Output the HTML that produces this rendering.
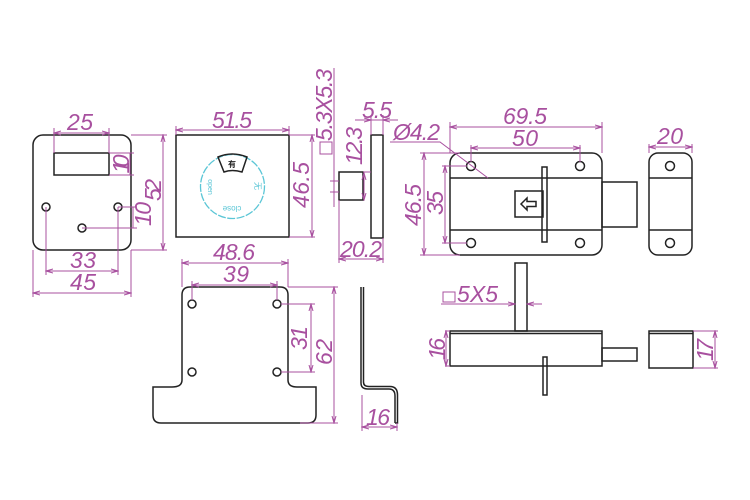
<!DOCTYPE html>
<html><head><meta charset="utf-8"><style>
html,body{margin:0;padding:0;background:#fff;}
svg{display:block;}
.k{fill:none;stroke:#222;stroke-width:1.5;}
.p{fill:none;stroke:#a8509f;stroke-width:1;}
text.d{font-family:"Liberation Sans Narrow","Liberation Sans",sans-serif;font-style:italic;font-size:23px;fill:#a8509f;}
</style></head><body>
<svg width="750" height="500" viewBox="0 0 750 500" xmlns="http://www.w3.org/2000/svg">
<defs>
<marker id="a" markerWidth="8" markerHeight="6" refX="7" refY="3" orient="auto-start-reverse" markerUnits="userSpaceOnUse"><path d="M0,1 L7,3 L0,5" fill="none" stroke="#a8509f" stroke-width="1"/></marker>
</defs>
<!-- Panel 1 -->
<rect class="k" x="33" y="135" width="98" height="115" rx="10"/>
<rect class="k" x="54" y="153" width="55" height="22"/>
<circle class="k" cx="46" cy="207" r="4"/><circle class="k" cx="118" cy="207" r="4"/><circle class="k" cx="82" cy="228" r="4"/>
<g class="p">
<path d="M54 128V153M109 128V153"/><line x1="54" y1="133" x2="109" y2="133" marker-start="url(#a)" marker-end="url(#a)"/>
<path d="M109 153H134M109 175H134"/><line x1="130" y1="153" x2="130" y2="175"/>
<path d="M131 135H167M131 250H167"/><line x1="163" y1="135" x2="163" y2="250" marker-start="url(#a)" marker-end="url(#a)"/>
<path d="M118 207H137M82 228H137"/><line x1="133" y1="207" x2="133" y2="228"/>
<path d="M46 207V275M118 207V275"/><line x1="46" y1="271" x2="118" y2="271" marker-start="url(#a)" marker-end="url(#a)"/>
<path d="M33 250V297M131 250V297"/><line x1="33" y1="293" x2="131" y2="293" marker-start="url(#a)" marker-end="url(#a)"/>
</g>
<text class="d" x="80" y="130" text-anchor="middle" textLength="26">25</text>
<text class="d" transform="translate(129,164) rotate(-90)" text-anchor="middle" textLength="19">10</text>
<text class="d" transform="translate(161,190) rotate(-90)" text-anchor="middle" textLength="22">52</text>
<text class="d" transform="translate(151,214) rotate(-90)" text-anchor="middle" textLength="24">10</text>
<text class="d" x="83" y="268" text-anchor="middle" textLength="26">33</text>
<text class="d" x="83" y="290" text-anchor="middle" textLength="26">45</text>
<!-- Panel 2 -->
<rect class="k" x="176" y="135" width="113" height="102"/>
<circle cx="232.5" cy="186.5" r="32" fill="none" stroke="#5bc6d6" stroke-width="1.3" stroke-dasharray="8,1.5"/>
<path class="k" stroke-width="1.3" d="M218 157 Q232 151 247 157 L242 172 Q232 169 224 172 Z"/>
<text x="232" y="167" font-family="Noto Sans CJK SC,sans-serif" font-size="8" font-weight="bold" text-anchor="middle" fill="#222">有</text>
<text transform="translate(232,206) rotate(180)" font-family="Liberation Sans,sans-serif" font-size="8" text-anchor="middle" fill="#5bc6d6">close</text>
<text transform="translate(208,187) rotate(90)" font-family="Liberation Sans,sans-serif" font-size="7" text-anchor="middle" fill="#5bc6d6">open</text>
<text transform="translate(255,186) rotate(90)" font-family="Noto Sans CJK SC,sans-serif" font-size="8" text-anchor="middle" fill="#5bc6d6">无</text>
<g class="p">
<path d="M176 126V135M289 126V135"/><line x1="176" y1="130" x2="289" y2="130" marker-start="url(#a)" marker-end="url(#a)"/>
<path d="M289 135H315M289 237H315"/><line x1="312" y1="135" x2="312" y2="237" marker-start="url(#a)" marker-end="url(#a)"/>
</g>
<text class="d" x="232" y="128" text-anchor="middle" textLength="40">51.5</text>
<text class="d" transform="translate(309,185) rotate(-90)" text-anchor="middle" textLength="46">46.5</text>
<!-- Panel 3 -->
<rect class="k" x="371" y="135" width="12" height="103"/>
<rect class="k" x="339" y="172" width="24" height="28"/>
<g class="p">
<line x1="334" y1="68" x2="334" y2="207"/>
<path d="M330 181H339M330 192H339"/>
<rect x="320" y="142" width="12" height="12"/>
<path d="M363 172H371"/><line x1="364" y1="173" x2="364" y2="200" marker-start="url(#a)" marker-end="url(#a)"/>
<path d="M371 115V135M383 115V135"/><line x1="355" y1="120" x2="371" y2="120" marker-end="url(#a)"/><line x1="398" y1="120" x2="383" y2="120" marker-end="url(#a)"/><line x1="371" y1="120" x2="383" y2="120"/>
<path d="M339 200V263M383 238V263"/><line x1="339" y1="259" x2="383" y2="259" marker-start="url(#a)" marker-end="url(#a)"/>
</g>
<text class="d" transform="translate(332,105) rotate(-90)" text-anchor="middle" textLength="72">5.3X5.3</text>
<text class="d" transform="translate(362,146) rotate(-90)" text-anchor="middle" textLength="38">12.3</text>
<text class="d" x="377" y="118" text-anchor="middle" textLength="30">5.5</text>
<text class="d" x="361" y="257" text-anchor="middle" textLength="42">20.2</text>
<!-- Bolt top view -->
<rect class="k" x="450" y="153" width="152" height="102" rx="10"/>
<path class="k" d="M450 178H602M450 230H602"/>
<circle class="k" cx="471" cy="166" r="4.5"/><circle class="k" cx="580" cy="166" r="4.5"/><circle class="k" cx="471" cy="243" r="4.5"/><circle class="k" cx="580" cy="243" r="4.5"/>
<rect class="k" x="602" y="182" width="35" height="45"/>
<rect class="k" x="515" y="191" width="28" height="26"/>
<rect class="k" x="542" y="167" width="5" height="75" fill="#fff"/>
<path class="k" stroke-width="1.2" d="M521 204 L527 198 V201.5 H536 V206.5 H527 V210 Z"/>
<g class="p">
<path d="M390 142H440L488 178"/>
<path d="M450 122V153M602 122V153"/><line x1="450" y1="127" x2="602" y2="127" marker-start="url(#a)" marker-end="url(#a)"/>
<path d="M471 145V162M580 145V162"/><line x1="471" y1="148" x2="580" y2="148" marker-start="url(#a)" marker-end="url(#a)"/>
<path d="M420 153H460M420 255H460"/><line x1="424" y1="153" x2="424" y2="255" marker-start="url(#a)" marker-end="url(#a)"/>
<path d="M442 166H467M442 243H467"/><line x1="445" y1="166" x2="445" y2="243" marker-start="url(#a)" marker-end="url(#a)"/>
</g>
<text class="d" x="393" y="140" textLength="47">Ø4.2</text>
<text class="d" x="525" y="124" text-anchor="middle" textLength="44">69.5</text>
<text class="d" x="525" y="146" text-anchor="middle" textLength="26">50</text>
<text class="d" transform="translate(421,205) rotate(-90)" text-anchor="middle" textLength="42">46.5</text>
<text class="d" transform="translate(443,203) rotate(-90)" text-anchor="middle" textLength="24">35</text>
<!-- Side piece -->
<rect class="k" x="649" y="153" width="43" height="102" rx="9"/>
<path class="k" d="M649 178H692M649 230H692"/>
<circle class="k" cx="670" cy="166" r="4.5"/><circle class="k" cx="670" cy="243" r="4.5"/>
<g class="p"><path d="M649 144V153M692 144V153"/><line x1="649" y1="147" x2="692" y2="147" marker-start="url(#a)" marker-end="url(#a)"/></g>
<text class="d" x="670" y="144" text-anchor="middle" textLength="26">20</text>
<!-- Bracket -->
<path class="k" d="M182 380 V295 Q182 287 190 287 H280 Q288 287 288 295 V380 Q288 387 297 387 H316 V415 Q316 423 308 423 H161 Q153 423 153 415 V387 H172 Q182 387 182 380 Z"/>
<circle class="k" cx="192" cy="304" r="4"/><circle class="k" cx="277" cy="304" r="4"/><circle class="k" cx="192" cy="372" r="4"/><circle class="k" cx="277" cy="372" r="4"/>
<g class="p">
<path d="M182 259V287M288 259V287"/><line x1="182" y1="263" x2="288" y2="263" marker-start="url(#a)" marker-end="url(#a)"/>
<path d="M192 281V300M277 281V300"/><line x1="192" y1="285" x2="277" y2="285" marker-start="url(#a)" marker-end="url(#a)"/>
<path d="M281 304H315M281 372H315"/><line x1="311" y1="304" x2="311" y2="372" marker-start="url(#a)" marker-end="url(#a)"/>
<path d="M288 287H338M300 423H338"/><line x1="334" y1="287" x2="334" y2="423" marker-start="url(#a)" marker-end="url(#a)"/>
</g>
<text class="d" x="234" y="260" text-anchor="middle" textLength="42">48.6</text>
<text class="d" x="236" y="282" text-anchor="middle" textLength="26">39</text>
<text class="d" transform="translate(307,338) rotate(-90)" text-anchor="middle" textLength="24">31</text>
<text class="d" transform="translate(332,352) rotate(-90)" text-anchor="middle" textLength="26">62</text>
<!-- Bent plate -->
<path class="k" stroke-width="1.3" d="M361 287V383Q361 389 368 389H389Q395 389 395 396V423"/>
<path class="k" stroke-width="1.3" d="M363.5 287V382Q363.5 386.5 369 386.5H390Q397.5 386.5 397.5 395V423H395"/>
<g class="p"><path d="M362 395V431M397 423V431"/><line x1="362" y1="427" x2="397" y2="427" marker-start="url(#a)" marker-end="url(#a)"/></g>
<text class="d" x="378" y="425" text-anchor="middle" textLength="24">16</text>
<!-- Bolt side view -->
<rect class="k" x="515" y="263" width="12" height="68"/>
<rect class="k" x="450" y="331" width="152" height="35"/>
<line class="k" x1="450" y1="333.5" x2="602" y2="333.5" stroke-width="1"/>
<rect class="k" x="602" y="348" width="35" height="13"/>
<rect class="k" x="543" y="357" width="4" height="38" fill="#fff"/>
<rect class="k" x="649" y="331" width="44" height="37"/>
<line class="k" x1="649" y1="333.5" x2="693" y2="333.5" stroke-width="1"/>
<g class="p">
<rect x="443" y="292" width="12" height="10"/>
<line x1="441" y1="304" x2="512" y2="304"/><line x1="500" y1="304" x2="515" y2="304" marker-end="url(#a)"/><line x1="542" y1="304" x2="527" y2="304" marker-end="url(#a)"/>
<path d="M445 331H450M445 366H450"/><line x1="446" y1="331" x2="446" y2="366" marker-start="url(#a)" marker-end="url(#a)"/>
<path d="M693 331H718M693 368H718"/><line x1="715" y1="331" x2="715" y2="368" marker-start="url(#a)" marker-end="url(#a)"/>
</g>
<text class="d" x="457" y="302" textLength="41">5X5</text>
<text class="d" transform="translate(445,349) rotate(-90)" text-anchor="middle" textLength="22">16</text>
<text class="d" transform="translate(713,350) rotate(-90)" text-anchor="middle" textLength="22">17</text>
</svg>
</body></html>
